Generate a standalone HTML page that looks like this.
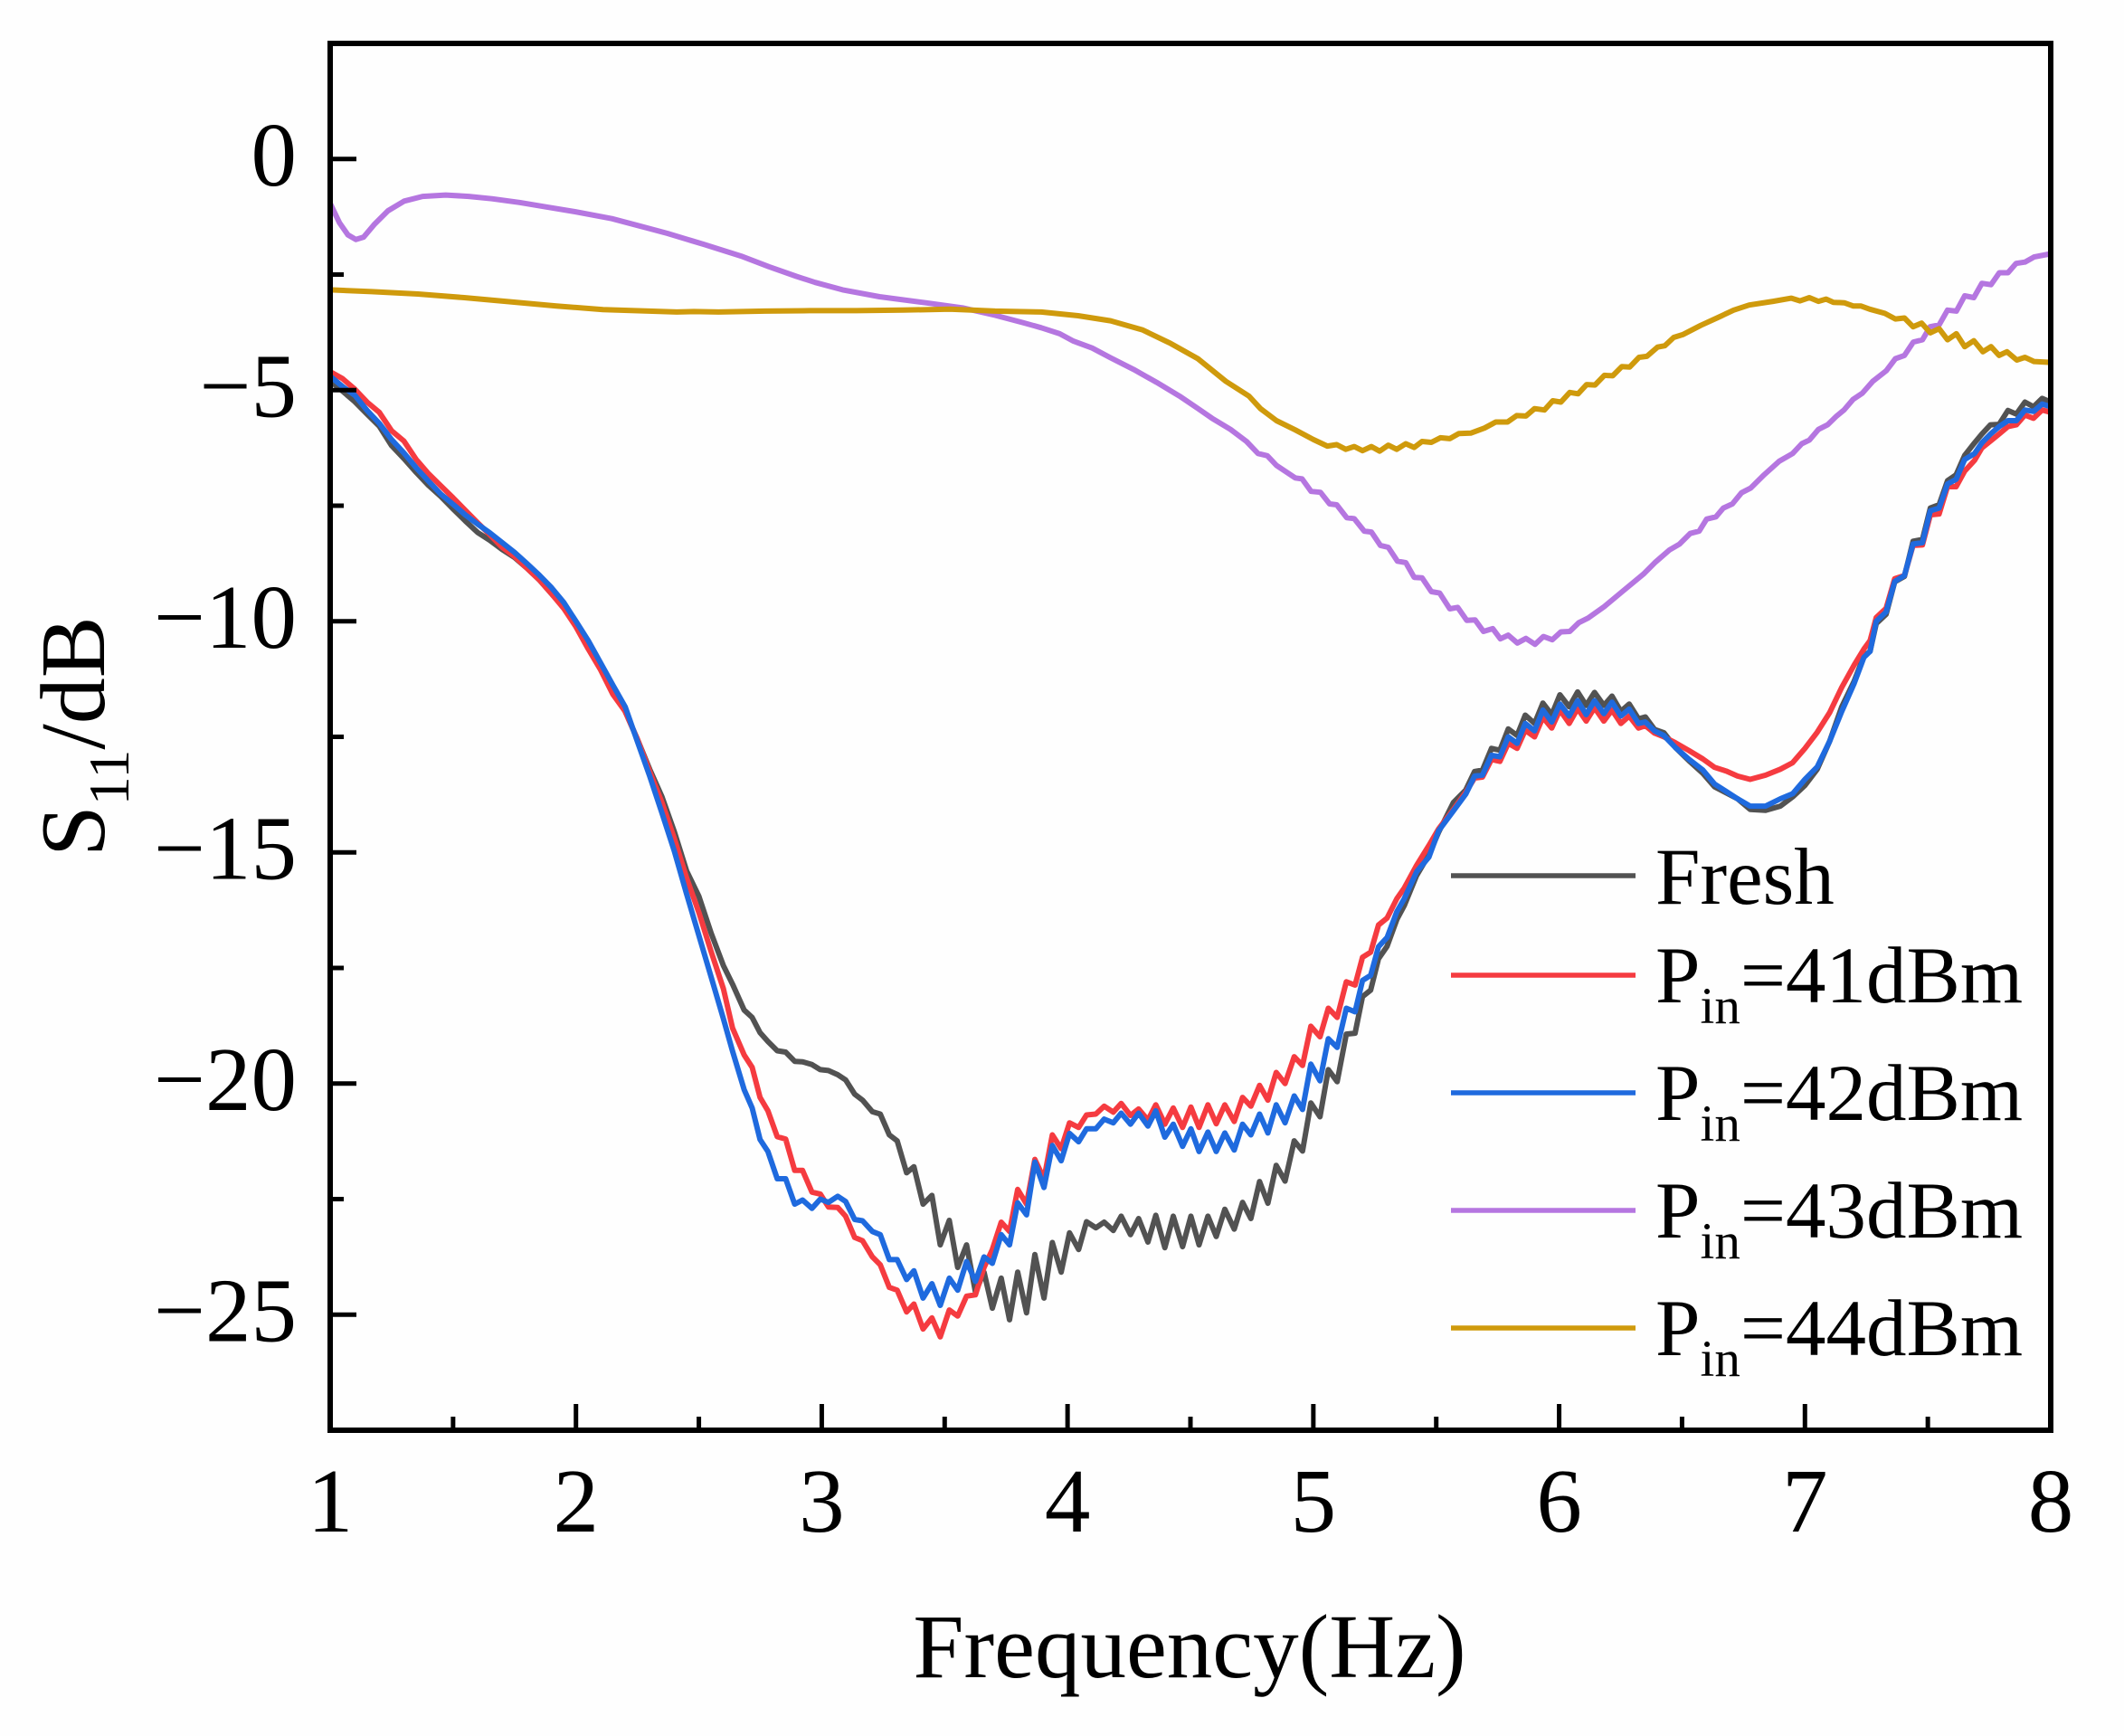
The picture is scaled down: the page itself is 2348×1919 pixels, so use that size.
<!DOCTYPE html>
<html lang="en">
<head>
<meta charset="utf-8">
<title>S11 versus frequency</title>
<style>
html,body{margin:0;padding:0;background:#fefefe;}
svg{display:block;}
text{font-family:"Liberation Serif",serif;fill:#000;}
</style>
</head>
<body>
<svg id="chart" xmlns="http://www.w3.org/2000/svg" width="2348" height="1919" viewBox="0 0 2348 1919">
  <rect x="0" y="0" width="2348" height="1919" fill="#fefefe"/>
  <g id="series-layer" fill="none" stroke-width="6" stroke-linejoin="round" stroke-linecap="butt"></g>
  <g id="tick-layer" stroke="#000" stroke-width="5"></g>
  <rect x="365" y="48" width="1902" height="1533" fill="none" stroke="#000" stroke-width="6"/>
  <g id="label-layer" font-size="101"></g>
  <text x="1315" y="1854" font-size="101" text-anchor="middle">Frequency(Hz)</text>
  <text transform="translate(115 947) rotate(-90)" font-size="102">S<tspan font-size="64" dy="27">11</tspan><tspan dy="-27">/dB</tspan></text>
  <g font-size="89">
    <g>
      <line x1="1604" x2="1808" y1="968" y2="968" stroke="#525252" stroke-width="5.4"/>
      <text x="1830" y="999">Fresh</text>
    </g>
    <g>
      <line x1="1604" x2="1808" y1="1078" y2="1078" stroke="#f53b40" stroke-width="5.4"/>
      <text x="1830" y="1108">P<tspan font-size="57" dy="23">in</tspan><tspan dy="-23">=41dBm</tspan></text>
    </g>
    <g>
      <line x1="1604" x2="1808" y1="1208" y2="1208" stroke="#1f6ade" stroke-width="5.4"/>
      <text x="1830" y="1238">P<tspan font-size="57" dy="23">in</tspan><tspan dy="-23">=42dBm</tspan></text>
    </g>
    <g>
      <line x1="1604" x2="1808" y1="1338" y2="1338" stroke="#b576e0" stroke-width="5.4"/>
      <text x="1830" y="1368">P<tspan font-size="57" dy="23">in</tspan><tspan dy="-23">=43dBm</tspan></text>
    </g>
    <g>
      <line x1="1604" x2="1808" y1="1468" y2="1468" stroke="#cf9a0c" stroke-width="5.4"/>
      <text x="1830" y="1498">P<tspan font-size="57" dy="23">in</tspan><tspan dy="-23">=44dBm</tspan></text>
    </g>
  </g>
</svg>
<script>
const xMajorTicks = [1, 2, 3, 4, 5, 6, 7, 8];
const xMinorTicks = [1.5, 2.5, 3.5, 4.5, 5.5, 6.5, 7.5];
const yMajorTicks = [0, -5, -10, -15, -20, -25];
const yMinorTicks = [-2.5, -7.5, -12.5, -17.5, -22.5];

const sharedFreq = [
1.0,1.05,1.1,1.15,1.2,1.25,1.3,1.35,1.4,1.45,
1.5,1.55,1.6,1.65,1.7,1.75,1.8,1.85,1.9,1.95,
2.0,2.05,2.1,2.15,2.2,2.25,2.3,2.35,2.4,2.45,
2.5,2.55,2.6,
2.637,2.684,2.717,2.749,2.781,2.819,2.853,2.890,2.922,2.960,
2.994,3.027,3.065,3.097,3.134,3.166,3.206,3.238,3.275,3.307,
3.345,3.375,3.412,3.448,3.482,3.519,3.553,3.589,3.625,3.660,
3.694,3.730,3.764,3.797,3.833,3.867,3.904,3.938,3.974,4.008,
4.045,4.077,4.115,4.149,4.186,4.218,4.256,4.289,4.327,4.359,
4.396,4.430,4.468,4.502,4.535,4.571,4.605,4.640,4.678,4.712,
4.746,4.781,4.815,4.849,4.885,4.922,4.956,4.990,5.027,5.061,
5.097,5.134,
5.17,5.2,5.233,5.265,5.3,5.34,5.37,5.42,5.47,5.51,
5.57,5.62,5.656,5.688,5.725,5.759,5.793,5.829,5.862,5.9,
5.934,5.97,6.003,6.041,6.075,6.11,6.144,6.182,6.215,6.251,
6.285,6.323,6.351,6.388,6.426,6.473,6.529,6.585,6.632,6.679,
6.726,6.777,6.84,6.9,6.95,7.0,7.05,7.1,7.15,7.2,
7.24,7.265,7.29,7.33,7.365,7.405,7.44,7.478,7.51,7.546,
7.58,7.615,7.65,7.69,7.72,7.755,7.79,7.826,7.86,7.895,
7.93,7.965,8.0
];

const freshDb = [
-4.8,-5.02,-5.25,-5.52,-5.78,-6.2,-6.48,-6.78,-7.06,-7.3,
-7.57,-7.83,-8.08,-8.25,-8.45,-8.62,-8.85,-9.1,-9.4,-9.7,
-10.1,-10.55,-11.0,-11.5,-11.95,-12.55,-13.2,-13.8,-14.55,-15.4,
-15.95,-16.75,-17.45,
-17.85,-18.41,-18.57,-18.9,-19.09,-19.29,-19.32,-19.52,-19.53,-19.59,
-19.7,-19.72,-19.81,-19.92,-20.23,-20.36,-20.61,-20.66,-21.11,-21.24,
-21.93,-21.8,-22.61,-22.42,-23.49,-22.96,-23.98,-23.49,-24.51,-24.08,
-24.86,-24.21,-25.11,-24.08,-24.96,-23.7,-24.64,-23.44,-24.08,-23.23,
-23.59,-22.99,-23.12,-23.0,-23.18,-22.87,-23.27,-22.92,-23.43,-22.85,
-23.55,-22.87,-23.53,-22.87,-23.49,-22.87,-23.31,-22.72,-23.15,-22.57,
-22.92,-22.12,-22.59,-21.77,-22.11,-21.24,-21.46,-20.42,-20.72,-19.7,
-19.96,-18.93,
-18.91,-18.12,-17.98,-17.3,-17.03,-16.45,-16.15,-15.5,-15.05,-14.56,
-13.92,-13.65,-13.25,-13.22,-12.75,-12.79,-12.33,-12.47,-12.03,-12.21,
-11.77,-12.02,-11.59,-11.85,-11.53,-11.82,-11.54,-11.82,-11.62,-11.95,
-11.79,-12.11,-12.07,-12.34,-12.41,-12.73,-13.02,-13.29,-13.58,-13.71,
-13.84,-14.07,-14.09,-14.0,-13.8,-13.55,-13.2,-12.6,-11.85,-11.3,
-10.75,-10.65,-10.05,-9.85,-9.15,-9.03,-8.27,-8.23,-7.55,-7.48,
-6.96,-6.83,-6.41,-6.14,-5.95,-5.75,-5.74,-5.44,-5.52,-5.26,
-5.36,-5.18,-5.26
];

const pin41Db = [
-4.6,-4.75,-4.98,-5.26,-5.48,-5.88,-6.1,-6.5,-6.81,-7.07,
-7.33,-7.6,-7.87,-8.13,-8.4,-8.6,-8.85,-9.1,-9.4,-9.72,
-10.12,-10.6,-11.05,-11.58,-11.95,-12.55,-13.25,-13.92,-14.7,-15.55,
-16.3,-17.15,-17.95,
-18.8,-19.38,-19.65,-20.3,-20.59,-21.15,-21.2,-21.88,-21.88,-22.35,
-22.39,-22.67,-22.68,-22.87,-23.33,-23.4,-23.75,-23.92,-24.41,-24.47,
-24.94,-24.77,-25.31,-25.07,-25.48,-24.9,-25.03,-24.6,-24.57,-23.98,
-23.59,-23.0,-23.2,-22.29,-22.61,-21.64,-22.06,-21.11,-21.41,-20.85,
-20.95,-20.68,-20.66,-20.49,-20.62,-20.43,-20.69,-20.55,-20.79,-20.46,
-20.88,-20.53,-20.95,-20.51,-20.95,-20.46,-20.87,-20.46,-20.82,-20.3,
-20.49,-20.04,-20.36,-19.76,-20.0,-19.42,-19.61,-18.76,-18.99,-18.37,
-18.57,-17.8,
-17.87,-17.27,-17.16,-16.57,-16.42,-16.0,-15.77,-15.28,-14.85,-14.49,
-14.07,-13.7,-13.39,-13.37,-12.99,-13.03,-12.64,-12.75,-12.36,-12.5,
-12.08,-12.31,-11.92,-12.21,-11.89,-12.16,-11.87,-12.16,-11.92,-12.21,
-12.05,-12.31,-12.26,-12.42,-12.5,-12.63,-12.8,-12.98,-13.16,-13.24,
-13.35,-13.42,-13.33,-13.2,-13.06,-12.75,-12.4,-11.98,-11.43,-10.95,
-10.6,-10.42,-9.92,-9.72,-9.08,-9.01,-8.36,-8.35,-7.7,-7.68,
-7.09,-7.09,-6.75,-6.52,-6.25,-6.1,-5.95,-5.79,-5.75,-5.54,
-5.61,-5.43,-5.48
];

const pin42Db = [
-4.7,-4.92,-5.11,-5.44,-5.72,-6.07,-6.36,-6.68,-6.97,-7.25,
-7.47,-7.7,-7.9,-8.09,-8.3,-8.51,-8.75,-9.0,-9.27,-9.59,
-10.0,-10.42,-10.9,-11.38,-11.85,-12.6,-13.35,-14.15,-14.97,-15.9,
-16.8,-17.7,-18.6,
-19.3,-20.13,-20.53,-21.21,-21.47,-22.06,-22.06,-22.61,-22.52,-22.7,
-22.5,-22.57,-22.44,-22.55,-22.94,-22.97,-23.2,-23.27,-23.81,-23.81,
-24.24,-24.05,-24.64,-24.33,-24.8,-24.21,-24.47,-23.85,-24.28,-23.75,
-23.89,-23.27,-23.49,-22.58,-22.84,-21.7,-22.25,-21.34,-21.67,-21.08,
-21.26,-20.98,-20.98,-20.77,-20.85,-20.64,-20.88,-20.64,-20.92,-20.59,
-21.16,-20.88,-21.36,-20.98,-21.47,-21.05,-21.47,-21.07,-21.44,-20.88,
-21.11,-20.66,-21.07,-20.46,-20.85,-20.27,-20.56,-19.58,-19.94,-19.03,
-19.22,-18.37,
-18.45,-17.77,-17.66,-17.04,-16.84,-16.28,-16.0,-15.42,-15.1,-14.53,
-14.1,-13.74,-13.35,-13.33,-12.9,-12.93,-12.5,-12.64,-12.21,-12.37,
-11.92,-12.18,-11.79,-12.05,-11.72,-12.02,-11.72,-12.0,-11.75,-12.05,
-11.9,-12.21,-12.18,-12.37,-12.47,-12.73,-12.99,-13.22,-13.52,-13.68,
-13.84,-14.0,-14.0,-13.84,-13.73,-13.42,-13.15,-12.6,-11.95,-11.35,
-10.78,-10.65,-10.0,-9.8,-9.14,-9.01,-8.33,-8.3,-7.61,-7.55,
-7.03,-6.93,-6.5,-6.37,-6.14,-5.95,-5.79,-5.66,-5.66,-5.43,
-5.46,-5.3,-5.36
];

const pin43Freq = [
1.0,1.038,1.072,1.104,1.136,1.179,1.235,1.301,1.376,1.47,
1.564,1.658,1.77,1.883,1.996,2.146,2.259,2.372,2.522,2.672,
2.785,2.897,2.973,3.085,3.235,3.423,3.573,3.705,3.818,3.893,
3.968,4.024,4.1,4.175,4.268,4.362,4.456,4.531,4.588,4.663,
4.728,4.775,4.813,4.85,4.926,4.954,4.991,5.029,5.066,5.095,
5.136,5.166,5.207,5.236,5.273,5.305,5.342,5.376,5.41,5.442,
5.48,5.514,5.555,5.587,5.624,5.658,5.692,5.73,5.761,5.793,
5.83,5.865,5.902,5.936,5.972,6.007,6.043,6.08,6.118,6.184,
6.259,6.343,6.392,6.448,6.49,6.533,6.57,6.6,6.638,6.668,
6.705,6.742,6.779,6.834,6.895,6.95,6.987,7.018,7.055,7.092,
7.129,7.159,7.196,7.233,7.276,7.331,7.368,7.405,7.441,7.478,
7.509,7.546,7.58,7.616,7.65,7.687,7.72,7.757,7.791,7.826,
7.859,7.895,7.932,8.0
];
const pin43Db = [
-0.96,-1.38,-1.64,-1.74,-1.69,-1.42,-1.12,-0.91,-0.81,-0.78,
-0.81,-0.86,-0.94,-1.04,-1.14,-1.29,-1.45,-1.61,-1.85,-2.1,
-2.33,-2.54,-2.67,-2.83,-2.98,-3.11,-3.22,-3.38,-3.54,-3.65,
-3.78,-3.94,-4.09,-4.3,-4.55,-4.83,-5.13,-5.4,-5.61,-5.85,
-6.11,-6.37,-6.42,-6.63,-6.9,-6.92,-7.19,-7.21,-7.46,-7.48,
-7.76,-7.78,-8.05,-8.07,-8.36,-8.4,-8.7,-8.73,-9.05,-9.06,
-9.36,-9.39,-9.73,-9.7,-9.98,-9.97,-10.22,-10.16,-10.38,-10.3,
-10.47,-10.37,-10.5,-10.33,-10.4,-10.23,-10.22,-10.03,-9.93,-9.68,
-9.35,-8.98,-8.72,-8.46,-8.33,-8.1,-8.05,-7.79,-7.74,-7.55,
-7.46,-7.22,-7.12,-6.83,-6.54,-6.37,-6.16,-6.08,-5.85,-5.75,
-5.56,-5.43,-5.2,-5.07,-4.81,-4.58,-4.32,-4.25,-3.96,-3.91,
-3.63,-3.59,-3.27,-3.29,-2.96,-3.0,-2.69,-2.72,-2.46,-2.46,
-2.26,-2.23,-2.12,-2.05
];

const pin44Freq = [
1.0,1.17,1.357,1.545,1.733,1.92,2.11,2.297,2.41,2.48,
2.58,2.77,2.95,3.14,3.33,3.52,3.61,3.705,3.893,4.043,
4.175,4.306,4.419,4.53,4.644,4.738,4.785,4.85,4.926,5.0,
5.057,5.095,5.132,5.166,5.2,5.236,5.27,5.305,5.339,5.376,
5.41,5.442,5.48,5.517,5.555,5.592,5.64,5.696,5.742,5.79,
5.827,5.865,5.9,5.94,5.974,6.007,6.043,6.077,6.112,6.146,
6.184,6.218,6.255,6.287,6.325,6.357,6.4,6.43,6.466,6.503,
6.576,6.65,6.71,6.773,6.87,6.945,6.98,7.018,7.055,7.086,
7.116,7.16,7.196,7.227,7.264,7.325,7.368,7.405,7.44,7.475,
7.51,7.546,7.58,7.616,7.65,7.687,7.724,7.757,7.79,7.822,
7.862,7.895,7.932,8.0
];
const pin44Db = [
-2.83,-2.87,-2.92,-3.0,-3.09,-3.18,-3.26,-3.29,-3.31,-3.3,
-3.31,-3.29,-3.28,-3.28,-3.27,-3.25,-3.27,-3.29,-3.31,-3.39,
-3.5,-3.7,-3.99,-4.32,-4.81,-5.13,-5.4,-5.66,-5.86,-6.07,
-6.21,-6.18,-6.28,-6.22,-6.31,-6.22,-6.32,-6.19,-6.28,-6.16,
-6.24,-6.11,-6.13,-6.03,-6.05,-5.94,-5.93,-5.82,-5.69,-5.69,
-5.55,-5.56,-5.4,-5.43,-5.23,-5.26,-5.05,-5.08,-4.88,-4.89,
-4.68,-4.69,-4.49,-4.5,-4.29,-4.27,-4.07,-4.04,-3.86,-3.8,
-3.6,-3.42,-3.27,-3.16,-3.08,-3.01,-3.07,-3.0,-3.08,-3.03,
-3.1,-3.11,-3.18,-3.18,-3.25,-3.34,-3.46,-3.44,-3.63,-3.55,
-3.76,-3.67,-3.91,-3.78,-4.06,-3.93,-4.17,-4.06,-4.25,-4.17,
-4.35,-4.29,-4.38,-4.4
];

const plotLeft = 365, plotRight = 2267, plotTop = 48, plotBottom = 1581;
const xMin = 1, xMax = 8, yMin = -27.5, yMax = 2.5;
const svgNS = 'http://www.w3.org/2000/svg';

function xScale(f) {
  return plotLeft + (f - xMin) / (xMax - xMin) * (plotRight - plotLeft);
}
function yScale(db) {
  return plotBottom - (db - yMin) / (yMax - yMin) * (plotBottom - plotTop);
}
function linePath(freqs, values) {
  return values.map(function (v, i) {
    return (i ? 'L' : 'M') + xScale(freqs[i]).toFixed(1) + ' ' + yScale(v).toFixed(1);
  }).join('');
}

const seriesLayer = document.getElementById('series-layer');
function drawSeries(name, colour, freqs, values) {
  const path = document.createElementNS(svgNS, 'path');
  path.setAttribute('d', linePath(freqs, values));
  path.setAttribute('stroke', colour);
  
  
  seriesLayer.appendChild(path);
}
drawSeries('series-fresh', '#525252', sharedFreq, freshDb);
drawSeries('series-41dbm', '#f53b40', sharedFreq, pin41Db);
drawSeries('series-42dbm', '#1f6ade', sharedFreq, pin42Db);
drawSeries('series-43dbm', '#b576e0', pin43Freq, pin43Db);
drawSeries('series-44dbm', '#cf9a0c', pin44Freq, pin44Db);

const tickLayer = document.getElementById('tick-layer');
function drawTick(x1, y1, x2, y2, name) {
  const tick = document.createElementNS(svgNS, 'line');
  tick.setAttribute('x1', x1);
  tick.setAttribute('y1', y1);
  tick.setAttribute('x2', x2);
  tick.setAttribute('y2', y2);
  
  
  tickLayer.appendChild(tick);
}
xMajorTicks.forEach(function (v) {
  drawTick(xScale(v), plotBottom, xScale(v), plotBottom - 29, 'x-major-tick');
});
xMinorTicks.forEach(function (v) {
  drawTick(xScale(v), plotBottom, xScale(v), plotBottom - 15, 'x-minor-tick');
});
yMajorTicks.forEach(function (v) {
  drawTick(plotLeft, yScale(v), plotLeft + 29, yScale(v), 'y-major-tick');
});
yMinorTicks.forEach(function (v) {
  drawTick(plotLeft, yScale(v), plotLeft + 15, yScale(v), 'y-minor-tick');
});

const labelLayer = document.getElementById('label-layer');
xMajorTicks.forEach(function (v) {
  const label = document.createElementNS(svgNS, 'text');
  label.setAttribute('x', xScale(v));
  label.setAttribute('y', 1693);
  label.setAttribute('text-anchor', 'middle');
  
  
  label.textContent = String(v);
  labelLayer.appendChild(label);
});
yMajorTicks.forEach(function (v) {
  const label = document.createElementNS(svgNS, 'text');
  label.setAttribute('x', 328);
  label.setAttribute('y', yScale(v) + 29);
  label.setAttribute('text-anchor', 'end');
  
  
  label.textContent = v < 0 ? '\u2212' + Math.abs(v) : String(v);
  labelLayer.appendChild(label);
});
</script>
</body>
</html>
